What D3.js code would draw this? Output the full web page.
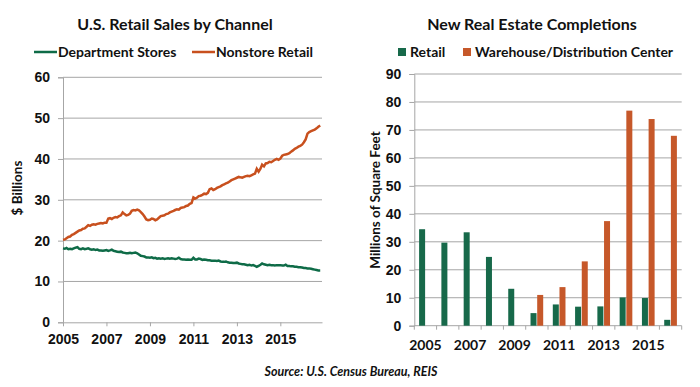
<!DOCTYPE html>
<html>
<head>
<meta charset="utf-8">
<script src="https://cdn.jsdelivr.net/npm/d3@7"></script>
<style>
  body { margin: 0; background: #fff; }
  svg { display: block; font-family: Lato, "Open Sans", sans-serif; font-weight: bold; }
  .grid line { stroke: #a6a6a6; stroke-width: 1; }
  .axis path, .axis line { stroke: #a6a6a6; }
</style>
</head>
<body>
<svg id="chart" width="700" height="387"></svg>
<script>
// monthly values, Jan 2005 .. Nov 2016, $ billions
var deptStores = [
  18.1, 18.0, 18.2, 17.9, 18.0, 17.9, 18.1, 18.3, 18.4, 18.0, 17.9, 18.1,
  17.9, 18.0, 18.1, 17.9, 17.8, 17.9, 17.7, 17.8, 17.6, 17.6, 17.5, 17.6,
  17.7, 17.5, 17.6, 17.8, 17.5, 17.4, 17.3, 17.2, 17.3, 17.1, 17.0, 16.9,
  16.9, 17.0, 16.9, 17.0, 17.1, 16.9, 16.6, 16.3, 16.2, 16.1, 15.9, 15.9,
  15.8, 15.9, 15.7, 15.8, 15.6, 15.7, 15.6, 15.7, 15.5, 15.6, 15.7, 15.6,
  15.7, 15.6, 15.5, 15.6, 15.8, 15.5, 15.4, 15.4, 15.3, 15.4, 15.3, 15.3,
  15.8, 15.4, 15.4, 15.6, 15.5, 15.3, 15.4, 15.3, 15.2, 15.2, 15.1, 15.1,
  15.1, 15.0, 15.1, 14.9, 14.8, 14.8, 14.9, 14.7, 14.6, 14.6, 14.5, 14.5,
  14.6, 14.4, 14.3, 14.2, 14.2, 14.1, 14.0, 14.1, 13.9, 14.0, 13.8, 13.6,
  13.8, 14.1, 14.4, 14.2, 14.1, 14.0, 14.1, 14.0, 14.0, 13.9, 14.0, 14.0,
  14.0, 13.9, 13.9, 14.1, 13.8, 13.8, 13.7, 13.7, 13.6, 13.6, 13.5, 13.5,
  13.4, 13.3, 13.3, 13.2, 13.2, 13.1, 13.0, 12.9, 12.8, 12.7, 12.7
];
var nonstore = [
  20.2, 20.3, 20.6, 20.9, 21.0, 21.4, 21.6, 21.9, 22.2, 22.5, 22.6, 22.9,
  23.0, 23.4, 23.8, 23.6, 23.9, 24.0, 23.9, 24.1, 24.2, 24.3, 24.2, 24.4,
  24.4, 25.4, 25.5, 25.3, 25.6, 25.8, 25.7, 26.0, 26.2, 26.9, 26.5, 26.2,
  26.3, 26.6, 27.3, 27.5, 27.4, 27.6, 27.4, 27.0, 26.5, 25.9, 25.2, 25.0,
  25.1, 25.4, 25.3, 25.0, 25.2, 25.6, 26.0, 26.1, 26.2, 26.5, 26.6, 26.9,
  27.1, 27.3, 27.5, 27.7, 27.6, 28.0, 28.1, 28.2, 28.5, 28.6, 29.0, 29.2,
  30.6, 30.3, 30.5, 30.9, 31.0, 31.2, 31.5, 31.4, 31.7, 32.6, 32.8, 32.4,
  32.6, 32.9, 33.1, 33.3, 33.6, 33.8, 34.0, 34.2, 34.5, 34.8, 35.0, 35.2,
  35.4, 35.6, 35.5, 35.4, 35.6, 35.8, 35.9, 35.8, 36.0, 36.2, 36.4, 37.6,
  36.9, 37.6, 38.6, 38.2, 38.9, 39.0, 39.3, 39.2, 39.5, 39.8, 40.0, 39.8,
  40.1, 40.8, 41.0, 41.1, 41.2, 41.4, 41.8, 42.1, 42.5, 42.7, 43.0, 43.2,
  43.5, 44.1, 44.8, 46.2, 46.6, 46.8, 47.0, 47.2, 47.5, 47.9, 48.2
];
var salesTicks = [0, 10, 20, 30, 40, 50, 60];
var yearTicks = [2005, 2007, 2009, 2011, 2013, 2015];

// new completions, millions of sq ft
var years = [2005, 2006, 2007, 2008, 2009, 2010, 2011, 2012, 2013, 2014, 2015, 2016];
var retailSqft = [34.5, 29.7, 33.4, 24.6, 13.2, 4.5, 7.6, 6.8, 6.9, 10.1, 9.9, 2.1];
var warehouseSqft = [0, 0, 0, 0, 0, 11.0, 13.8, 23.0, 37.4, 76.9, 73.9, 67.9];
var sqftTicks = [0, 10, 20, 30, 40, 50, 60, 70, 80, 90];

const green = "#0e6b47", orange = "#c8501e";
const barGreen = "#17694a", barOrange = "#c6582a";

var svg = d3.select("#chart");

// ---------- left: retail sales line chart
var L = {left: 63, right: 322, top: 77.3, bottom: 322.3};
var x1 = d3.scaleTime()
  .domain([new Date(2005, 0, 1), new Date(2016, 11, 1)])
  .range([L.left, L.right]);
var y1 = d3.scaleLinear().domain([0, 60]).range([L.bottom, L.top]);

var left = svg.append("g");
left.append("g").attr("class", "grid")
  .selectAll("line").data(salesTicks.slice(1)).enter().append("line")
  .attr("x1", L.left).attr("x2", L.right)
  .attr("y1", d => y1(d)).attr("y2", d => y1(d));

left.append("g").attr("class", "axis")
  .attr("transform", "translate(" + L.left + ",0)")
  .call(d3.axisLeft(y1).tickValues(salesTicks).tickSize(5).tickPadding(8))
  .call(g => g.selectAll("text").style("font-size", "14px").attr("fill", "#111"));

left.append("g").attr("class", "axis")
  .attr("transform", "translate(0," + L.bottom + ")")
  .call(d3.axisBottom(x1).tickValues(yearTicks.map(y => new Date(y, 0, 1)))
    .tickFormat(d3.timeFormat("%Y")).tickSize(4).tickSizeOuter(0).tickPadding(8))
  .call(g => g.selectAll("text").style("font-size", "14px").attr("fill", "#111"));

var line = d3.line().x((d, i) => x1(new Date(2005, i, 1))).y(d => y1(d));
left.append("path").datum(nonstore).attr("d", line)
  .attr("fill", "none").attr("stroke", orange).attr("stroke-width", 2.5);
left.append("path").datum(deptStores).attr("d", line)
  .attr("fill", "none").attr("stroke", green).attr("stroke-width", 2.5);

left.append("text").attr("x", 175).attr("y", 30).attr("text-anchor", "middle")
  .style("font-size", "16px").attr("fill", "#111").text("U.S. Retail Sales by Channel");
left.append("text").attr("transform", "translate(22,188) rotate(-90)")
  .attr("text-anchor", "middle").style("font-size", "13.5px").attr("fill", "#111").text("$ Billions");

var leg1 = [{name: "Department Stores", c: green, x: 34}, {name: "Nonstore Retail", c: orange, x: 192}];
leg1.forEach(function(d) {
  left.append("line").attr("x1", d.x).attr("x2", d.x + 23).attr("y1", 52).attr("y2", 52)
    .attr("stroke", d.c).attr("stroke-width", 2.5);
  left.append("text").attr("x", d.x + 24).attr("y", 57).style("font-size", "14px")
    .attr("fill", "#111").text(d.name);
});

// ---------- right: completions bar chart
var R = {left: 414.3, right: 681.7, top: 74, bottom: 325.7};
var x2 = d3.scaleBand().domain(years).range([R.left, R.right]);
var xs = d3.scaleBand().domain(["retail", "warehouse"]).range([0, x2.bandwidth()])
  .paddingInner(0.1).paddingOuter(0.72);
var y2 = d3.scaleLinear().domain([0, 90]).range([R.bottom, R.top]);

var right = svg.append("g");
right.append("g").attr("class", "grid")
  .selectAll("line").data(sqftTicks.slice(1)).enter().append("line")
  .attr("x1", R.left).attr("x2", R.right)
  .attr("y1", d => y2(d)).attr("y2", d => y2(d));

right.append("g").attr("class", "axis")
  .attr("transform", "translate(" + R.left + ",0)")
  .call(d3.axisLeft(y2).tickValues(sqftTicks).tickSize(5).tickPadding(8))
  .call(g => g.selectAll("text").style("font-size", "14px").attr("fill", "#111"));

var xAxis2 = right.append("g").attr("class", "axis")
  .attr("transform", "translate(0," + R.bottom + ")");
xAxis2.append("line").attr("x1", R.left).attr("x2", R.right);
xAxis2.selectAll(".tk").data(years.concat([2017])).enter().append("line")
  .attr("x1", d => d === 2017 ? R.right : x2(d)).attr("x2", d => d === 2017 ? R.right : x2(d))
  .attr("y1", 0).attr("y2", 4);
xAxis2.selectAll("text").data(years.filter(y => y % 2 === 1)).enter().append("text")
  .attr("x", d => x2(d) + x2.bandwidth() / 2).attr("y", 24)
  .attr("text-anchor", "middle").style("font-size", "14px").attr("fill", "#111").text(d => d);

var barData = years.map((y, i) => ({year: y, retail: retailSqft[i], warehouse: warehouseSqft[i]}));
var series = [{key: "retail", c: barGreen}, {key: "warehouse", c: barOrange}];
series.forEach(function(s) {
  right.append("g").attr("fill", s.c)
    .selectAll("rect").data(barData.filter(d => d[s.key] > 0)).enter().append("rect")
    .attr("x", d => x2(d.year) + xs(s.key))
    .attr("width", xs.bandwidth())
    .attr("y", d => y2(d[s.key]))
    .attr("height", d => y2(0) - y2(d[s.key]));
});

right.append("text").attr("x", 532).attr("y", 30).attr("text-anchor", "middle")
  .style("font-size", "16px").attr("fill", "#111").text("New Real Estate Completions");
right.append("text").attr("transform", "translate(380,200) rotate(-90)")
  .attr("text-anchor", "middle").style("font-size", "13.5px").attr("fill", "#111").text("Millions of Square Feet");

var leg2 = [{name: "Retail", c: barGreen, x: 398}, {name: "Warehouse/Distribution Center", c: barOrange, x: 463}];
leg2.forEach(function(d) {
  right.append("rect").attr("x", d.x).attr("y", 48).attr("width", 8).attr("height", 8).attr("fill", d.c);
  right.append("text").attr("x", d.x + 12).attr("y", 57).style("font-size", "14px")
    .attr("fill", "#111").text(d.name);
});

svg.append("text").attr("x", 351).attr("y", 376).attr("text-anchor", "middle")
  .style("font-size", "12.5px").style("font-style", "italic").attr("fill", "#111")
  .text("Source: U.S. Census Bureau, REIS");
</script>
</body>
</html>
